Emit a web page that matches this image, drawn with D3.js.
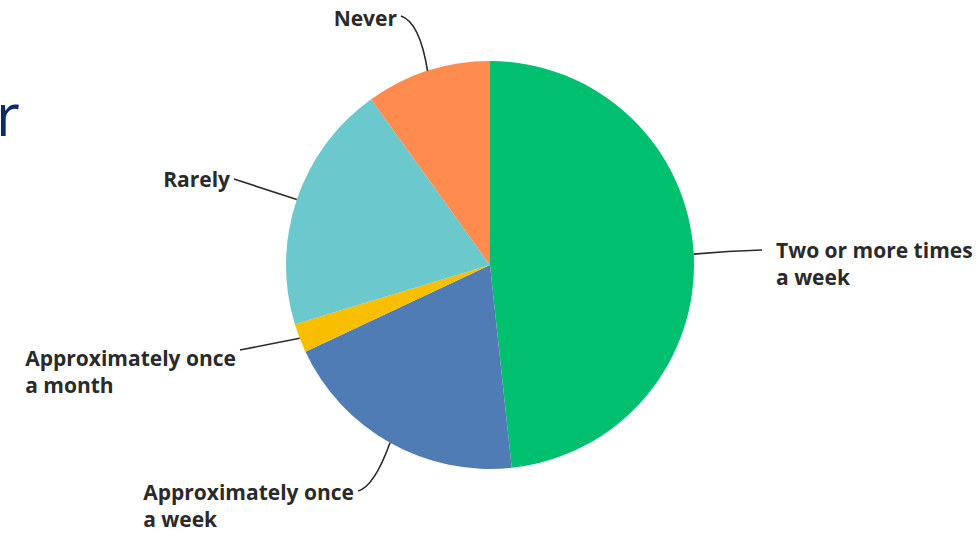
<!DOCTYPE html>
<html>
<head>
<meta charset="utf-8">
<script src="https://cdn.jsdelivr.net/npm/d3@7"></script>
<style>
  html, body { margin: 0; padding: 0; background: #ffffff; }
  svg { display: block; }
</style>
</head>
<body>
<svg id="chart" width="978" height="539"></svg>
<script>
// ---- data ----
const categories = [
  "Two or more times a week",
  "Approximately once a week",
  "Approximately once a month",
  "Rarely",
  "Never"
];
const values = [48.3, 19.7, 2.3, 19.8, 9.9];
const labelLines = [
  ["Two or more times", "a week"],
  ["Approximately once", "a week"],
  ["Approximately once", "a month"],
  ["Rarely"],
  ["Never"]
];
const colors = ["#00BF6F", "#507CB6", "#F9BE00", "#6BC8CD", "#FF8B4F"];

// ---- layout ----
const W = 978, H = 539;
const cx = 490, cy = 265, R = 204;
const fontSize = 21, lineH = 27;
// label anchor (where leader meets text), text side, bend, baseline offset
const labelLayout = [
  { x: 762, y: 250, anchor: "start", bend: 1, dy: 8 },
  { x: 358, y: 491, anchor: "end",   bend: 1, dy: 9 },
  { x: 240, y: 350, anchor: "end",   bend: 0, dy: 16 },
  { x: 234, y: 179, anchor: "end",   bend: 0, dy: 8 },
  { x: 401, y: 16,  anchor: "end",   bend: 1, dy: 10 }
];

const svg = d3.select("#chart");
svg.append("rect").attr("width", W).attr("height", H).attr("fill", "#fff");

// partially visible title glyph at left edge
svg.append("text")
  .attr("x", -4).attr("y", 136)
  .attr("font-family", "'Open Sans', sans-serif")
  .attr("font-size", 58)
  .attr("font-weight", 400)
  .attr("fill", "#0E2A6B")
  .text("r");

const data = categories.map((c, i) => ({ cat: c, value: values[i], i }));

const pie = d3.pie().sort(null).value(d => d.value).startAngle(0).endAngle(2 * Math.PI);
const arcs = pie(data);
const arc = d3.arc().innerRadius(0).outerRadius(R);

const g = svg.append("g").attr("transform", `translate(${cx},${cy})`);
g.selectAll("path.slice")
  .data(arcs)
  .join("path")
  .attr("class", "slice")
  .attr("d", arc)
  .attr("fill", d => colors[d.data.i]);

// leaders + labels
arcs.forEach(a => {
  const i = a.data.i;
  const L = labelLayout[i];
  const mid = (a.startAngle + a.endAngle) / 2;
  const sx = cx + Math.sin(mid) * R;
  const sy = cy - Math.cos(mid) * R;
  let path;
  if (i === 4) {
    path = `M${sx},${sy} Q${sx - 8},${L.y + 6} ${L.x},${L.y}`;
  } else if (i === 1) {
    path = `M${sx},${sy} Q${L.x + 16},${L.y - 4} ${L.x},${L.y}`;
  } else if (i === 0) {
    path = `M${sx},${sy} Q${(sx + L.x) / 2},${L.y + 1} ${L.x},${L.y}`;
  } else {
    path = `M${sx},${sy} L${L.x},${L.y}`;
  }
  svg.append("path")
    .attr("d", path)
    .attr("fill", "none")
    .attr("stroke", "#2b2b2b")
    .attr("stroke-width", 1.6);

  const tx = L.anchor === "start" ? L.x + 14 : L.x - 4;
  const t = svg.append("text")
    .attr("font-family", "'Open Sans', Roboto, sans-serif")
    .attr("font-weight", 700)
    .attr("font-size", fontSize)
    .attr("fill", "#2a2a2a")
    .attr("text-anchor", "start");
  const lines = labelLines[i];
  lines.forEach((ln, k) => {
    t.append("tspan")
      .attr("x", 0)
      .attr("y", k * lineH)
      .text(ln);
  });
  let left;
  if (L.anchor === "start") {
    left = tx;
  } else {
    const firstW = t.select("tspan").node().getComputedTextLength();
    left = tx - firstW;
  }
  t.attr("transform", `translate(${left},${L.y + L.dy})`);
});
</script>
</body>
</html>
